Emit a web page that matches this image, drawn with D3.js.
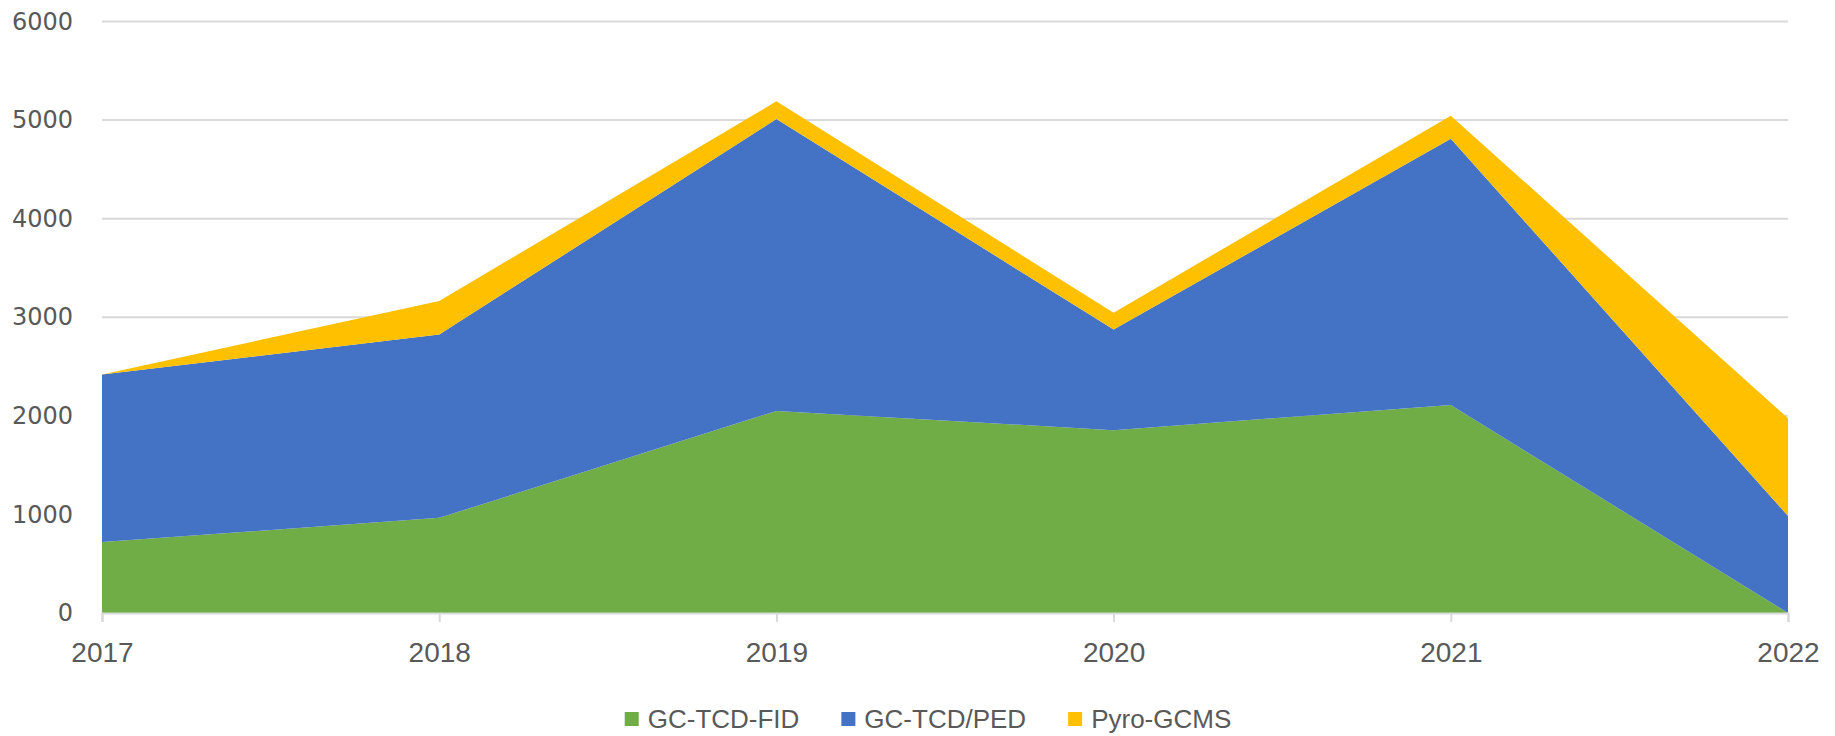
<!DOCTYPE html>
<html>
<head>
<meta charset="utf-8">
<script src="https://cdn.jsdelivr.net/npm/d3@7"></script>
<style>
  html, body { margin: 0; padding: 0; background: #ffffff; }
  svg { display: block; }
</style>
</head>
<body>
<svg id="chart" width="1835" height="736"></svg>
<script>
// ---- Data ----
const years = [2017, 2018, 2019, 2020, 2021, 2022];
const seriesNames = ["GC-TCD-FID", "GC-TCD/PED", "Pyro-GCMS"];
const gcTcdFid = [720, 965, 2050, 1855, 2110, 0];
const gcTcdPed = [1700, 1860, 2960, 1020, 2700, 985];
const pyroGcms = [0, 340, 180, 170, 235, 990];
const yTicks = [0, 1000, 2000, 3000, 4000, 5000, 6000];
const colors = ["#70AD47", "#4472C4", "#FFC000"];

(function () {
// ---- Build table ----
const table = years.map((yr, i) => ({
  year: yr,
  "GC-TCD-FID": gcTcdFid[i],
  "GC-TCD/PED": gcTcdPed[i],
  "Pyro-GCMS": pyroGcms[i]
}));

const svg = d3.select("#chart");
const plotL = 102, plotR = 1788, plotT = 21.5, plotB = 613;

const x = d3.scaleLinear().domain([years[0], years[years.length - 1]]).range([plotL, plotR]);
const y = d3.scaleLinear().domain([0, 6000]).range([plotB, plotT]);

const labelColor = "#595959";
const gridColor = "#D9D9D9";
const sans = "'Liberation Sans',Arial,sans-serif";

// Gridlines
svg.append("g")
  .selectAll("line")
  .data(yTicks.filter(d => d > 0))
  .join("line")
  .attr("x1", plotL).attr("x2", plotR)
  .attr("y1", d => y(d)).attr("y2", d => y(d))
  .attr("stroke", gridColor).attr("stroke-width", 2);

// Stacked areas
const stacked = d3.stack().keys(seriesNames)(table);
const area = d3.area()
  .x(d => x(d.data.year))
  .y0(d => y(d[0]))
  .y1(d => y(d[1]));

svg.append("g")
  .selectAll("path")
  .data(stacked)
  .join("path")
  .attr("d", area)
  .attr("fill", (d, i) => colors[i]);

// X axis
const xAxis = d3.axisBottom(x).tickValues(years).tickFormat(d3.format("d")).tickSize(9).tickPadding(20);
const gx = svg.append("g").attr("transform", `translate(0,${plotB})`).call(xAxis);
gx.select(".domain").attr("stroke", gridColor).attr("stroke-width", 2);
gx.selectAll(".tick line").attr("stroke", gridColor).attr("stroke-width", 2);
gx.selectAll(".tick text")
  .attr("fill", labelColor)
  .attr("font-family", sans)
  .attr("font-size", 28);

// Y axis labels
const yAxis = d3.axisLeft(y).tickValues(yTicks).tickFormat(d3.format("d")).tickSize(0).tickPadding(29);
const gy = svg.append("g").attr("transform", `translate(${plotL},0)`).call(yAxis);
gy.select(".domain").remove();
gy.selectAll(".tick text")
  .attr("fill", labelColor)
  .attr("font-family", "'DejaVu Sans',sans-serif")
  .attr("font-size", 24);

// Legend
const legend = svg.append("g");
const legendY = 719;
const sq = 14, gapTxt = 9, gapItem = 42;
const items = legend.selectAll("g").data(seriesNames).join("g");
items.append("rect")
  .attr("width", sq).attr("height", sq)
  .attr("y", legendY - sq / 2)
  .attr("fill", (d, i) => colors[i]);
items.append("text")
  .attr("x", sq + gapTxt)
  .attr("y", legendY)
  .attr("dy", "0.35em")
  .attr("fill", labelColor)
  .attr("font-family", sans)
  .attr("font-size", 26)
  .text(d => d);
const widths = [];
items.each(function () {
  widths.push(d3.select(this).select("text").node().getComputedTextLength() + sq + gapTxt);
});
const total = d3.sum(widths) + gapItem * (widths.length - 1);
let cx = 928 - total / 2;
items.attr("transform", (d, i) => {
  const t = `translate(${cx},0)`;
  cx += widths[i] + gapItem;
  return t;
});
})();
</script>
</body>
</html>
